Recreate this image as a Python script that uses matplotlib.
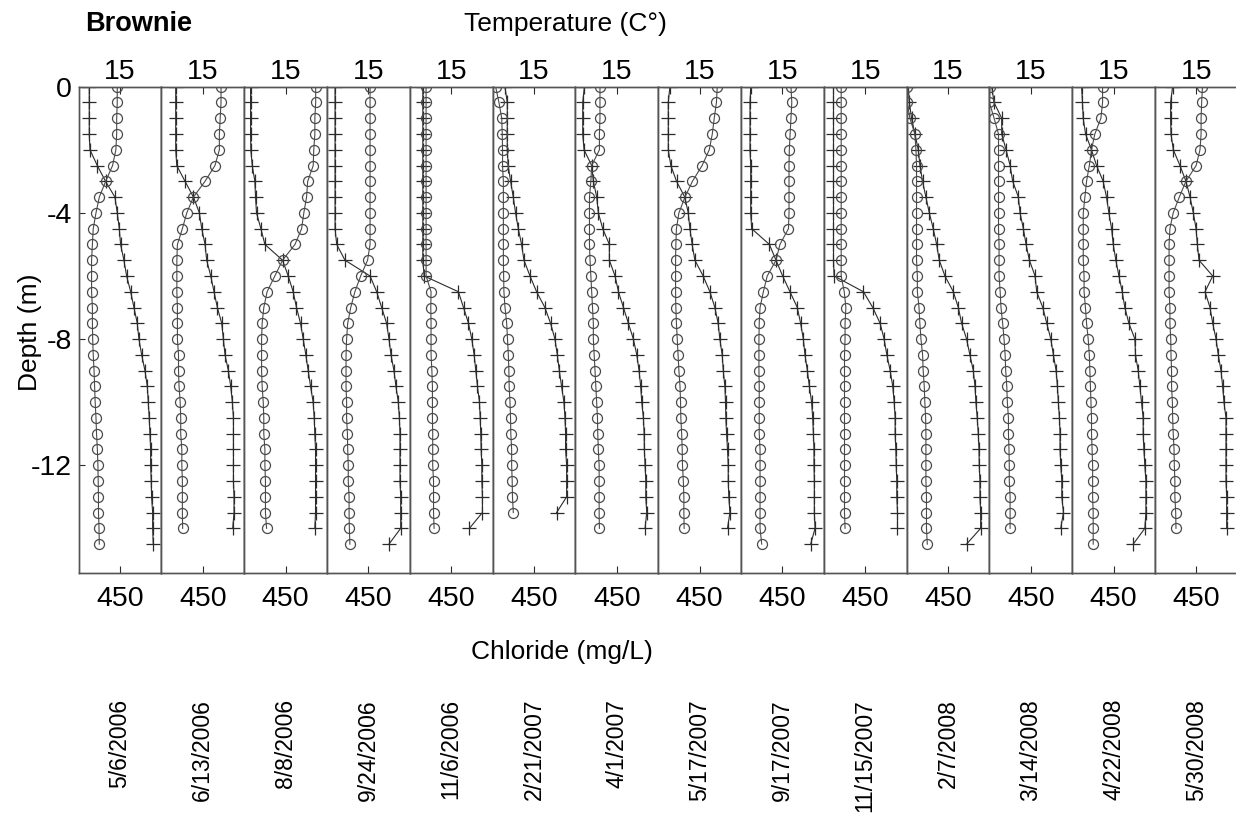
import matplotlib
matplotlib.use('Agg')
import matplotlib.pyplot as plt

plt.rcParams['font.family'] = ['Liberation Sans', 'DejaVu Sans']
plt.rcParams['axes.unicode_minus'] = False

# sampling depths (m), every 0.5 m
depth = [0, -0.5, -1, -1.5, -2, -2.5, -3, -3.5, -4, -4.5, -5, -5.5, -6, -6.5, -7,
         -7.5, -8, -8.5, -9, -9.5, -10, -10.5, -11, -11.5, -12, -12.5, -13, -13.5, -14, -14.5]

dates = ['5/6/2006', '6/13/2006', '8/8/2006', '9/24/2006', '11/6/2006', '2/21/2007', '4/1/2007',
         '5/17/2007', '9/17/2007', '11/15/2007', '2/7/2008', '3/14/2008', '4/22/2008', '5/30/2008']

# temperature (C) profiles
temp_20060506 = [14.0, 14.0, 13.8, 13.8, 13.5, 12.3, 9.8, 7.5, 6.3, 5.3, 5.0, 4.7, 4.7, 4.7, 5.0,
                 5.0, 5.1, 5.3, 5.6, 5.8, 6.0, 6.3, 6.5, 6.8, 7.0, 7.1, 7.2, 7.2, 7.4, 7.5]
temp_20060613 = [21.6, 21.6, 21.3, 21.0, 21.0, 19.4, 15.8, 11.6, 9.2, 7.6, 5.8, 5.6, 5.6, 5.6, 5.8,
                 5.8, 5.8, 6.2, 6.2, 6.4, 6.8, 7.0, 7.0, 7.4, 7.4, 7.6, 7.6, 7.6, 7.7]
temp_20060808 = [25.9, 25.9, 25.6, 25.6, 25.2, 25.0, 23.0, 22.6, 21.6, 20.8, 18.4, 13.9, 11.1, 8.3, 7.1,
                 6.5, 6.3, 6.3, 6.3, 6.5, 6.9, 7.1, 7.1, 7.5, 7.5, 7.7, 7.7, 7.7, 8.1]
temp_20060924 = [15.6, 15.6, 15.6, 15.6, 15.6, 15.6, 15.6, 15.6, 15.6, 15.6, 15.6, 14.7, 12.2, 10.1, 8.6,
                 7.5, 7.1, 6.9, 6.9, 6.9, 7.1, 7.1, 7.4, 7.5, 7.7, 7.7, 8.0, 8.0, 8.1, 8.3]
temp_20061106 = [5.9, 5.9, 5.9, 5.9, 5.9, 5.9, 5.9, 5.9, 5.9, 5.9, 5.9, 5.9, 5.9, 7.7, 7.6,
                 7.7, 7.7, 7.7, 8.0, 8.2, 8.2, 8.2, 8.3, 8.3, 8.3, 8.6, 8.6, 8.6, 8.8]
temp_20070221 = [1.1, 2.3, 3.3, 3.5, 3.6, 3.6, 3.9, 3.9, 3.9, 3.9, 3.9, 3.9, 4.0, 4.1, 4.5,
                 5.1, 5.4, 5.7, 5.9, 6.0, 6.3, 6.5, 6.6, 6.9, 6.9, 7.1, 7.2, 7.5]
temp_20070401 = [8.9, 8.9, 8.9, 8.7, 8.7, 5.9, 5.6, 5.1, 5.1, 5.1, 5.1, 5.3, 5.6, 5.9, 6.2,
                 6.5, 6.5, 6.8, 7.1, 7.4, 7.7, 8.0, 8.1, 8.3, 8.6, 8.6, 8.6, 8.6, 8.7]
temp_20070517 = [21.4, 21.1, 20.3, 19.6, 18.5, 15.9, 12.4, 9.7, 7.5, 6.6, 6.4, 6.3, 6.3, 6.3, 6.4,
                 6.6, 6.9, 7.2, 7.5, 7.9, 8.1, 8.2, 8.5, 8.7, 8.8, 9.1, 9.3, 9.3, 9.4]
temp_20070917 = [18.1, 18.4, 18.1, 17.8, 17.5, 17.4, 17.4, 17.4, 17.4, 17.2, 14.1, 12.7, 9.5, 8.1, 6.9,
                 6.6, 6.5, 6.5, 6.5, 6.6, 6.6, 6.6, 6.6, 6.9, 6.9, 6.9, 6.9, 6.9, 6.9, 7.5]
temp_20071115 = [6.3, 6.3, 6.3, 6.3, 6.3, 6.3, 6.3, 6.3, 6.3, 6.3, 6.3, 6.3, 6.3, 7.4, 8.0,
                 7.7, 7.7, 7.5, 7.5, 7.5, 7.5, 7.5, 7.5, 7.5, 7.5, 7.5, 7.5, 7.5, 7.7]
temp_20080207 = [0.0, 0.2, 1.2, 3.0, 3.4, 3.6, 3.6, 3.6, 3.6, 3.6, 3.6, 3.6, 3.9, 3.9, 4.5,
                 4.8, 5.2, 5.8, 6.0, 6.4, 6.6, 6.9, 7.0, 7.0, 7.0, 7.0, 7.2, 7.2, 7.2, 7.5]
temp_20080314 = [0.2, 0.0, 1.7, 3.3, 3.3, 3.3, 3.3, 3.3, 3.3, 3.3, 3.5, 3.5, 3.5, 3.9, 4.2,
                 4.8, 5.3, 5.7, 5.9, 6.3, 6.5, 6.9, 6.9, 7.1, 7.2, 7.2, 7.5, 7.5, 7.5]
temp_20080422 = [11.0, 11.0, 10.4, 8.2, 7.0, 6.2, 5.2, 4.6, 4.0, 4.0, 4.0, 4.0, 4.3, 4.3, 4.8,
                 5.2, 5.8, 6.2, 6.4, 6.6, 6.8, 7.0, 7.0, 7.2, 7.4, 7.4, 7.4, 7.6, 7.6, 7.6]
temp_20080530 = [17.2, 16.9, 16.7, 16.7, 16.3, 14.9, 11.2, 8.8, 6.6, 5.4, 5.1, 5.1, 5.1, 5.1, 5.4,
                 5.4, 5.7, 5.8, 6.0, 6.0, 6.3, 6.4, 6.6, 6.9, 7.0, 7.2, 7.2, 7.5, 7.6]

# chloride (mg/L) profiles
cl_20060506 = [190, 190, 190, 190, 196, 258, 328, 407, 427, 444, 455, 483, 506, 540, 568,
               596, 610, 633, 661, 681, 689, 697, 703, 709, 709, 714, 717, 726, 726, 731]
cl_20060613 = [221, 221, 221, 221, 221, 230, 300, 371, 421, 441, 469, 483, 517, 545, 573,
               610, 624, 638, 666, 686, 700, 709, 709, 709, 709, 709, 714, 714, 703]
cl_20060808 = [154, 154, 154, 154, 156, 168, 190, 196, 204, 241, 275, 424, 472, 514, 542,
               576, 599, 621, 641, 661, 683, 692, 697, 703, 703, 703, 703, 703, 697]
cl_20060924 = [168, 168, 168, 168, 168, 168, 168, 168, 168, 168, 182, 252, 464, 520, 562,
               604, 624, 641, 666, 683, 703, 712, 717, 717, 717, 717, 723, 723, 723, 624]
cl_20061106 = [210, 210, 210, 210, 210, 210, 210, 210, 210, 210, 210, 210, 221, 511, 554,
               596, 624, 644, 658, 672, 689, 695, 700, 703, 709, 709, 714, 714, 604]
cl_20070221 = [204, 224, 224, 224, 224, 232, 252, 275, 294, 317, 345, 365, 416, 472, 542,
               590, 627, 647, 664, 683, 703, 712, 717, 717, 726, 726, 726, 641]
cl_20070401 = [176, 162, 162, 162, 173, 238, 252, 280, 294, 331, 387, 387, 435, 464, 506,
               548, 590, 619, 638, 652, 661, 675, 681, 683, 689, 695, 695, 703, 689]
cl_20070517 = [199, 185, 185, 185, 185, 207, 255, 325, 354, 368, 387, 410, 480, 537, 579,
               607, 621, 641, 650, 664, 669, 672, 678, 686, 692, 692, 697, 706, 686]
cl_20070917 = [182, 176, 176, 176, 176, 182, 182, 182, 182, 190, 340, 396, 452, 514, 576,
               604, 627, 641, 661, 678, 697, 706, 712, 717, 717, 720, 720, 720, 726, 689]
cl_20071115 = [182, 182, 182, 182, 182, 182, 182, 182, 182, 182, 182, 182, 187, 435, 514,
               576, 610, 633, 661, 683, 695, 703, 703, 709, 712, 717, 717, 723, 723]
cl_20080207 = [114, 123, 142, 170, 199, 213, 235, 263, 292, 325, 354, 376, 424, 495, 537,
               565, 607, 635, 664, 678, 686, 697, 706, 712, 714, 720, 720, 726, 726, 607]
cl_20080314 = [120, 139, 204, 204, 241, 275, 297, 345, 359, 387, 410, 438, 486, 500, 551,
               585, 619, 641, 664, 675, 683, 692, 697, 697, 703, 712, 712, 726, 703]
cl_20080422 = [179, 187, 193, 213, 263, 306, 362, 390, 410, 433, 447, 469, 495, 523, 545,
               579, 630, 635, 658, 672, 686, 700, 700, 706, 714, 723, 723, 723, 714, 616]
cl_20080530 = [249, 232, 232, 235, 255, 311, 362, 396, 424, 447, 458, 472, 588, 523, 565,
               588, 616, 635, 658, 672, 683, 700, 700, 700, 700, 700, 706, 706, 706]

temps = [temp_20060506, temp_20060613, temp_20060808, temp_20060924, temp_20061106, temp_20070221,
         temp_20070401, temp_20070517, temp_20070917, temp_20071115, temp_20080207, temp_20080314,
         temp_20080422, temp_20080530]
chlorides = [cl_20060506, cl_20060613, cl_20060808, cl_20060924, cl_20061106, cl_20070221,
             cl_20070401, cl_20070517, cl_20070917, cl_20071115, cl_20080207, cl_20080314,
             cl_20080422, cl_20080530]

W, H = 1236, 825
fig = plt.figure(figsize=(W / 100, H / 100), dpi=100)

left0, pw = 78.6, 82.8          # panel left edge / width in px
top_px, bot_px = 86.7, 572.5
dark = '#2b2b2b'
circ = '#4a4a4a'
spine_c = '#555555'

for i in range(len(dates)):
    x0 = left0 + i * pw
    ax = fig.add_axes([x0 / W, 1 - bot_px / H, pw / W, (bot_px - top_px) / H])
    n = len(chlorides[i])
    ax.plot(chlorides[i], depth[:n], color=dark, lw=0.8, marker='+', ms=9.5, mew=0.9)
    ax.set_xlim(100, 800)
    ax.set_xticks([450])
    ax.tick_params(axis='x', direction='in', length=5, labelsize=20.5, pad=10, color=dark)

    axt = ax.twiny()
    n = len(temps[i])
    axt.plot(temps[i], depth[:n], color=circ, lw=0.8, marker='o', ms=7.2, mfc='none',
             mec=circ, mew=0.9)
    axt.set_xlim(0, 30)
    axt.set_xticks([15])
    axt.tick_params(axis='x', direction='in', length=5, labelsize=20.5, pad=1, color=dark)

    ax.set_ylim(-15.4, 0)
    if i == 0:
        ax.set_yticks([0, -4, -8, -12])
        ax.tick_params(axis='y', direction='in', length=4, labelsize=20.5, pad=5, color=dark)
    else:
        ax.set_yticks([])
    for a in (ax, axt):
        for s in a.spines.values():
            s.set_color(spine_c)
            s.set_linewidth(1.0)

    fig.text((x0 + pw / 2) / W, 1 - 699 / H, dates[i], rotation=90,
             ha='center', va='top', fontsize=16.5)

fig.text(85 / W, 1 - 24 / H, 'Brownie', fontsize=19.5, fontweight='bold', ha='left', va='center')
fig.text(565 / W, 1 - 24 / H, 'Temperature (C°)', fontsize=19, ha='center', va='center')
fig.text(30 / W, 1 - 332 / H, 'Depth (m)', fontsize=19, rotation=90, ha='center', va='center')
fig.text(562 / W, 1 - 652 / H, 'Chloride (mg/L)', fontsize=19, ha='center', va='center')

fig.savefig('out.png', dpi=100)
